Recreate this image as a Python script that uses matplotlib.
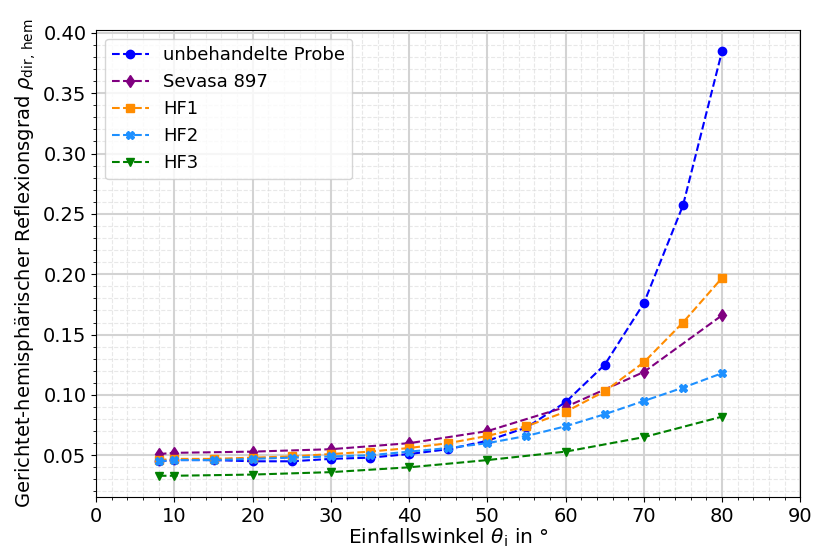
import numpy as np
import matplotlib
matplotlib.use('Agg')
import matplotlib.pyplot as plt
from matplotlib.ticker import MultipleLocator

# Einfallswinkel in Grad
winkel_voll = [8, 10, 15, 20, 25, 30, 35, 40, 45, 50, 55, 60, 65, 70, 75, 80]
winkel_grob = [8, 10, 20, 30, 40, 50, 60, 70, 80]

# Reflexionsgrade
unbehandelt = [0.045, 0.046, 0.046, 0.045, 0.045, 0.047, 0.048, 0.051,
               0.055, 0.062, 0.073, 0.094, 0.125, 0.176, 0.257, 0.385]
sevasa = [0.051, 0.052, 0.053, 0.055, 0.060, 0.070, 0.090, 0.119, 0.166]
hf1 = [0.046, 0.047, 0.047, 0.048, 0.049, 0.051, 0.053, 0.056,
       0.060, 0.066, 0.074, 0.086, 0.103, 0.127, 0.160, 0.197]
hf2 = [0.045, 0.046, 0.046, 0.047, 0.048, 0.049, 0.050, 0.053,
       0.056, 0.060, 0.066, 0.074, 0.084, 0.095, 0.106, 0.118]
hf3 = [0.033, 0.033, 0.034, 0.036, 0.040, 0.046, 0.053, 0.065, 0.082]

fig, ax = plt.subplots(figsize=(8.15, 5.51), dpi=100)
fig.subplots_adjust(left=0.118, right=0.982, top=0.946, bottom=0.098)

ax.plot(winkel_voll, unbehandelt, 'o--', color='blue', label='unbehandelte Probe')
ax.plot(winkel_grob, sevasa, 'd--', color='purple', label='Sevasa 897')
ax.plot(winkel_voll, hf1, 's--', color='darkorange', label='HF1')
ax.plot(winkel_voll, hf2, 'X--', color='dodgerblue', label='HF2')
ax.plot(winkel_grob, hf3, 'v--', color='green', label='HF3')

ax.set_xlim(0, 90)
ax.xaxis.set_major_locator(MultipleLocator(10))
ax.xaxis.set_minor_locator(MultipleLocator(2))
ax.yaxis.set_major_locator(MultipleLocator(0.05))
ax.yaxis.set_minor_locator(MultipleLocator(0.01))

ax.grid(which='major', color='lightgrey', linewidth=1.5)
ax.grid(which='minor', color='lightgrey', linestyle='--', linewidth=0.8, alpha=0.5)

ax.tick_params(labelsize=14)
ax.set_xlabel(r'Einfallswinkel $\theta_\mathrm{i}$ in °', fontsize=14.5, labelpad=1)
ax.set_ylabel(r'Gerichtet-hemisphärischer Reflexionsgrad $\rho_\mathrm{dir,\,hem}$', fontsize=14)
ax.legend(loc='upper left', fontsize=13)

fig.savefig('out.png')
